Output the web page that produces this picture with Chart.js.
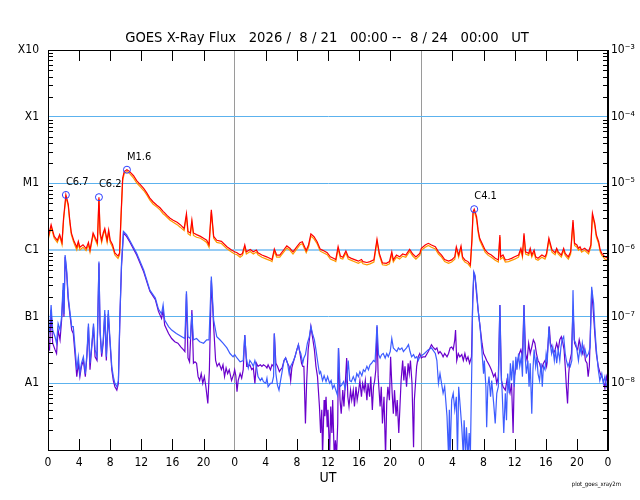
<!DOCTYPE html>
<html>
<head>
<meta charset="utf-8">
<title>GOES X-Ray Flux</title>
<script src="https://cdn.jsdelivr.net/npm/chart.js@4.4.1/dist/chart.umd.min.js"></script>
<style>
  html, body { margin: 0; padding: 0; background: #fff; }
</style>
</head>
<body>
<canvas id="xray" width="640" height="500"></canvas>
<script>
// hours counted from 2026-08-21 00:00 UT, flux in W/m^2
// long channel (red = primary, orange = secondary, same sample times)
const redHours = [
  0, 0.4, 0.8, 1.2, 1.5, 1.8, 2.0, 2.3, 2.6, 2.8,
  3.0, 3.3, 3.7, 3.9, 4.1, 4.5, 4.9, 5.2, 5.4, 5.8,
  6.1, 6.35, 6.55, 6.7, 6.9, 7.1, 7.3, 7.6, 7.8, 8.0,
  8.3, 8.6, 9.0, 9.2, 9.4, 9.6, 9.8, 10.15, 10.5, 11.0,
  11.4, 11.9, 12.3, 12.7, 13.1, 13.5, 14.0, 14.4, 14.8, 15.0,
  15.3, 15.7, 16.1, 16.6, 17.0, 17.5, 17.8, 18.0, 18.3, 18.5,
  18.7, 19.1, 19.6, 20.0, 20.4, 20.7, 21.0, 21.3, 21.7, 22.3,
  23.0, 23.6, 24.0, 24.3, 24.7, 25.0, 25.3, 25.5, 26.0, 26.4,
  26.8, 27.0, 27.5, 28.1, 28.5, 28.8, 29.1, 29.4, 29.8, 30.3,
  30.7, 31.1, 31.5, 32.0, 32.4, 32.7, 33.2, 33.5, 33.8, 34.2,
  34.6, 35.0, 35.4, 35.9, 36.3, 36.7, 37.0, 37.3, 37.6, 37.9,
  38.3, 38.6, 39.0, 39.5, 39.9, 40.3, 40.5, 41.0, 41.4, 41.9,
  42.3, 42.6, 43.0, 43.5, 43.9, 44.2, 44.4, 44.8, 45.2, 45.6,
  46.0, 46.5, 46.9, 47.3, 47.8, 48.0, 48.5, 48.9, 49.3, 49.8,
  50.2, 50.6, 51.0, 51.5, 51.9, 52.3, 52.5, 52.8, 53.1, 53.3,
  53.6, 54.0, 54.3, 54.5, 54.65, 54.8, 55.1, 55.3, 55.5, 55.8,
  56.2, 56.6, 57.0, 57.5, 57.9, 58.1, 58.2, 58.5, 58.8, 59.2,
  59.6, 60.0, 60.5, 60.8, 61.0, 61.2, 61.4, 61.8, 62.0, 62.2,
  62.5, 62.7, 63.0, 63.5, 63.9, 64.1, 64.4, 64.8, 65.2, 65.4,
  65.6, 66.0, 66.3, 66.5, 66.9, 67.2, 67.5, 67.7, 68.0, 68.2,
  68.4, 68.6, 69.0, 69.5, 69.8, 70.0, 70.3, 70.5, 70.8, 71.0,
  71.2, 71.4, 71.6, 72.0
];
const redFlux = [
  1.5e-6, 2.4e-6, 1.6e-6, 1.4e-6, 1.7e-6, 1.3e-6, 3.0e-6, 6.7e-6, 4.9e-6, 2.8e-6,
  1.8e-6, 1.4e-6, 1.1e-6, 1.35e-6, 1.1e-6, 1.2e-6, 1.05e-6, 1.3e-6, 1.0e-6, 1.8e-6,
  1.5e-6, 1.3e-6, 6.2e-6, 1.8e-6, 1.4e-6, 1.8e-6, 2.1e-6, 1.4e-6, 2.0e-6, 1.4e-6,
  1.2e-6, 9.0e-7, 8.1e-7, 9.0e-7, 3.5e-6, 1.2e-5, 1.5e-5, 1.6e-5, 1.5e-5, 1.3e-5,
  1.1e-5, 9.5e-6, 8.4e-6, 7.2e-6, 6.0e-6, 5.3e-6, 4.7e-6, 4.3e-6, 3.8e-6, 3.6e-6,
  3.3e-6, 3.0e-6, 2.8e-6, 2.6e-6, 2.4e-6, 2.1e-6, 3.5e-6, 1.9e-6, 1.8e-6, 2.8e-6,
  1.8e-6, 1.7e-6, 1.6e-6, 1.5e-6, 1.4e-6, 1.2e-6, 4.0e-6, 1.6e-6, 1.4e-6, 1.35e-6,
  1.12e-6, 1.0e-6, 9.4e-7, 9.1e-7, 8.4e-7, 8.9e-7, 1.19e-6, 9.4e-7, 1.02e-6, 9.4e-7,
  1.0e-6, 9.1e-7, 8.4e-7, 7.9e-7, 7.5e-7, 7.2e-7, 1.03e-6, 8.4e-7, 8.4e-7, 1.0e-6,
  1.15e-6, 1.06e-6, 9.4e-7, 1.12e-6, 1.29e-6, 1.33e-6, 9.8e-7, 1.19e-6, 1.74e-6, 1.58e-6,
  1.33e-6, 1.03e-6, 9.8e-7, 9.1e-7, 7.9e-7, 7.5e-7, 7.2e-7, 1.12e-6, 8.1e-7, 7.8e-7,
  9.7e-7, 7.9e-7, 7.5e-7, 7.1e-7, 6.8e-7, 7.2e-7, 6.7e-7, 6.5e-7, 6.7e-7, 7.1e-7,
  1.45e-6, 8.9e-7, 6.4e-7, 6.3e-7, 6.7e-7, 9.4e-7, 7.1e-7, 8.4e-7, 7.9e-7, 8.7e-7,
  8.4e-7, 1.02e-6, 8.7e-7, 7.9e-7, 8.9e-7, 1.06e-6, 1.19e-6, 1.26e-6, 1.19e-6, 1.12e-6,
  9.4e-7, 8.4e-7, 7.2e-7, 6.8e-7, 7.1e-7, 7.9e-7, 1.12e-6, 8.4e-7, 1.15e-6, 7.9e-7,
  7.1e-7, 6.7e-7, 6.0e-7, 1.41e-6, 3.76e-6, 4.1e-6, 3.16e-6, 2.0e-6, 1.5e-6, 1.26e-6,
  1.0e-6, 8.9e-7, 8.4e-7, 7.5e-7, 7.1e-7, 1.68e-6, 7.9e-7, 8.4e-7, 7.1e-7, 7.2e-7,
  7.5e-7, 7.9e-7, 8.4e-7, 1.06e-6, 8.4e-7, 1.78e-6, 9.4e-7, 8.9e-7, 1.06e-6, 8.4e-7,
  1.0e-6, 7.9e-7, 7.5e-7, 8.4e-7, 7.9e-7, 8.9e-7, 1.5e-6, 1.0e-6, 9.1e-7, 1.06e-6,
  9.4e-7, 8.4e-7, 1.06e-6, 8.9e-7, 7.9e-7, 9.4e-7, 2.82e-6, 1.26e-6, 1.19e-6, 1.06e-6,
  1.12e-6, 1.0e-6, 1.06e-6, 9.4e-7, 1.19e-6, 3.55e-6, 2.5e-6, 1.68e-6, 1.33e-6, 1.0e-6,
  8.9e-7, 8.4e-7, 7.9e-7, 7.5e-7
];
const orangeFlux = [
  1.4e-6, 2.2e-6, 1.5e-6, 1.3e-6, 1.6e-6, 1.2e-6, 2.8e-6, 6.2e-6, 4.6e-6, 2.6e-6,
  1.7e-6, 1.3e-6, 1.0e-6, 1.25e-6, 1.0e-6, 1.1e-6, 9.8e-7, 1.2e-6, 9.3e-7, 1.7e-6,
  1.4e-6, 1.2e-6, 5.8e-6, 1.7e-6, 1.3e-6, 1.7e-6, 1.95e-6, 1.3e-6, 1.85e-6, 1.3e-6,
  1.1e-6, 8.4e-7, 7.5e-7, 8.4e-7, 3.2e-6, 1.1e-5, 1.4e-5, 1.5e-5, 1.4e-5, 1.2e-5,
  1.02e-5, 8.8e-6, 7.8e-6, 6.7e-6, 5.6e-6, 4.9e-6, 4.4e-6, 4.0e-6, 3.5e-6, 3.35e-6,
  3.1e-6, 2.8e-6, 2.6e-6, 2.4e-6, 2.2e-6, 1.95e-6, 3.2e-6, 1.75e-6, 1.65e-6, 2.6e-6,
  1.65e-6, 1.55e-6, 1.5e-6, 1.4e-6, 1.3e-6, 1.1e-6, 3.7e-6, 1.5e-6, 1.3e-6, 1.25e-6,
  1.04e-6, 9.3e-7, 8.7e-7, 8.5e-7, 7.8e-7, 8.3e-7, 1.1e-6, 8.7e-7, 9.5e-7, 8.7e-7,
  9.3e-7, 8.5e-7, 7.8e-7, 7.3e-7, 7.0e-7, 6.7e-7, 9.6e-7, 7.8e-7, 7.8e-7, 9.3e-7,
  1.07e-6, 9.9e-7, 8.7e-7, 1.04e-6, 1.2e-6, 1.24e-6, 9.1e-7, 1.1e-6, 1.62e-6, 1.47e-6,
  1.24e-6, 9.6e-7, 9.1e-7, 8.5e-7, 7.3e-7, 7.0e-7, 6.7e-7, 1.04e-6, 7.5e-7, 7.3e-7,
  9.0e-7, 7.3e-7, 7.0e-7, 6.6e-7, 6.3e-7, 6.7e-7, 6.2e-7, 6.0e-7, 6.2e-7, 6.6e-7,
  1.35e-6, 8.3e-7, 6.0e-7, 5.9e-7, 6.2e-7, 8.7e-7, 6.6e-7, 7.8e-7, 7.3e-7, 8.1e-7,
  7.8e-7, 9.5e-7, 8.1e-7, 7.3e-7, 8.3e-7, 9.9e-7, 1.1e-6, 1.17e-6, 1.1e-6, 1.04e-6,
  8.7e-7, 7.8e-7, 6.7e-7, 6.3e-7, 6.6e-7, 7.3e-7, 1.04e-6, 7.8e-7, 1.07e-6, 7.3e-7,
  6.6e-7, 6.2e-7, 5.6e-7, 1.3e-6, 3.5e-6, 3.8e-6, 2.9e-6, 1.85e-6, 1.4e-6, 1.17e-6,
  9.3e-7, 8.3e-7, 7.8e-7, 7.0e-7, 6.6e-7, 1.56e-6, 7.3e-7, 7.8e-7, 6.6e-7, 6.7e-7,
  7.0e-7, 7.3e-7, 7.8e-7, 9.9e-7, 7.8e-7, 1.65e-6, 8.7e-7, 8.3e-7, 9.9e-7, 7.8e-7,
  9.3e-7, 7.3e-7, 7.0e-7, 7.8e-7, 7.3e-7, 8.3e-7, 1.4e-6, 9.3e-7, 8.5e-7, 9.9e-7,
  8.7e-7, 7.8e-7, 9.9e-7, 8.3e-7, 7.3e-7, 8.7e-7, 2.6e-6, 1.17e-6, 1.1e-6, 9.9e-7,
  1.04e-6, 9.3e-7, 9.9e-7, 8.7e-7, 1.1e-6, 3.3e-6, 2.3e-6, 1.56e-6, 1.24e-6, 9.3e-7,
  8.3e-7, 7.8e-7, 7.3e-7, 7.0e-7
];

// short channel, primary (blue)
const blueHours = [
  0, 0.2, 0.4, 0.6, 0.9, 1.1, 1.3, 1.55, 1.75, 1.95,
  2.05, 2.2, 2.4, 2.6, 2.85, 3.05, 3.25, 3.5, 3.7, 3.9,
  4.1, 4.3, 4.55, 4.8, 5.0, 5.2, 5.4, 5.6, 5.85, 6.05,
  6.3, 6.55, 6.7, 6.9, 7.1, 7.3, 7.5, 7.75, 7.95, 8.2,
  8.4, 8.6, 8.85, 9.05, 9.25, 9.45, 9.7, 10.1, 10.5, 11.4,
  12.3, 13.1, 13.8, 14.2, 14.6, 14.8, 15.0, 15.5, 15.9, 16.5,
  17.2, 17.6, 17.8, 18.0, 18.3, 18.5, 18.7, 19.1, 19.5, 20.0,
  20.4, 20.7, 21.0, 21.3, 21.7, 22.1, 22.5, 23.0, 23.4, 23.8,
  24.0, 24.3, 24.7, 25.1, 25.3, 25.5, 25.75, 25.95, 26.2, 26.4,
  26.6, 26.8, 27.0, 27.3, 27.5, 27.7, 28.0, 28.15, 28.3, 28.6,
  28.8, 29.0, 29.1, 29.3, 29.5, 29.7, 29.9, 30.1, 30.35, 30.55,
  30.8, 31.0, 31.2, 31.5, 31.75, 32.0, 32.2, 32.3, 32.5, 32.75,
  32.9, 33.1, 33.35, 33.6, 33.8, 34.0, 34.25, 34.45, 34.7, 34.9,
  35.05, 35.3, 35.5, 35.75, 35.95, 36.2, 36.4, 36.6, 36.8, 37.0,
  37.2, 37.35, 37.55, 37.75, 38.0, 38.2, 38.4, 38.6, 38.8, 39.0,
  39.25, 39.5, 39.7, 39.9, 40.1, 40.35, 40.55, 40.75, 41.0, 41.2,
  41.4, 41.6, 41.85, 42.05, 42.3, 42.5, 42.7, 42.9, 43.1, 43.35,
  43.55, 43.75, 44.0, 44.2, 44.4, 44.6, 44.85, 45.05, 45.25, 45.5,
  45.7, 45.9, 46.1, 46.35, 46.55, 46.75, 47.0, 47.2, 47.4, 47.6,
  47.8, 48.0, 48.4, 48.9, 49.3, 49.8, 50.0, 50.2, 50.4, 50.6,
  50.8, 51.0, 51.3, 51.5, 51.6, 51.7, 51.9, 52.1, 52.3, 52.5,
  52.65, 52.8, 53.0, 53.2, 53.4, 53.5, 53.7, 53.8, 54.0, 54.15,
  54.3, 54.5, 54.6, 54.75, 54.9, 55.1, 55.3, 55.55, 55.75, 56.0,
  56.1, 56.3, 56.4, 56.55, 56.7, 56.9, 57.05, 57.3, 57.5, 57.7,
  57.9, 58.1, 58.25, 58.4, 58.6, 58.8, 58.95, 59.1, 59.3, 59.45,
  59.6, 59.8, 59.95, 60.15, 60.3, 60.5, 60.65, 60.85, 61.0, 61.2,
  61.35, 61.5, 61.7, 61.85, 62.0, 62.2, 62.35, 62.5, 62.7, 62.85,
  63.0, 63.2, 63.4, 63.55, 63.7, 63.9, 64.05, 64.2, 64.4, 64.55,
  64.75, 64.9, 65.1, 65.25, 65.4, 65.6, 65.8, 65.95, 66.1, 66.3,
  66.5, 66.65, 66.85, 67.0, 67.15, 67.35, 67.5, 67.65, 67.85, 68.0,
  68.2, 68.4, 68.55, 68.7, 68.9, 69.05, 69.25, 69.5, 69.7, 69.9,
  70.0, 70.15, 70.3, 70.5, 70.75, 70.95, 71.2, 71.4, 71.6, 71.8,
  72.0
];
const blueFlux = [
  5.0e-8, 6.3e-8, 1.5e-7, 6.3e-8, 5.0e-8, 4.0e-8, 7.9e-8, 6.3e-8, 1.0e-7, 3.2e-7,
  1.1e-7, 8.4e-7, 5.0e-7, 2.0e-7, 1.1e-7, 7.1e-8, 7.1e-8, 3.2e-8, 1.6e-8, 2.5e-8,
  1.4e-8, 2.0e-8, 2.5e-8, 1.4e-8, 2.8e-8, 7.9e-8, 2.0e-8, 3.5e-8, 7.9e-8, 3.2e-8,
  2.5e-8, 6.7e-7, 6.3e-8, 2.8e-8, 4.5e-8, 1.26e-7, 2.5e-8, 1.26e-7, 5.0e-8, 1.8e-8,
  1.26e-8, 1.0e-8, 8.9e-9, 1.1e-8, 1.1e-7, 6.3e-7, 1.9e-6, 1.7e-6, 1.4e-6, 8.9e-7,
  5.0e-7, 2.5e-7, 1.9e-7, 1.3e-7, 1.1e-7, 1.5e-7, 8.9e-8, 7.1e-8, 6.3e-8, 5.6e-8,
  5.0e-8, 4.7e-8, 2.4e-7, 5.0e-8, 4.7e-8, 1.1e-7, 4.5e-8, 4.7e-8, 4.2e-8, 4.0e-8,
  4.5e-8, 4.5e-8, 4.0e-7, 8.9e-8, 5.0e-8, 4.5e-8, 4.0e-8, 3.4e-8, 2.8e-8, 2.5e-8,
  2.7e-8, 2.4e-8, 2.1e-8, 2.2e-8, 5.3e-8, 2.4e-8, 1.7e-8, 2.2e-8, 2.0e-8, 1.8e-8,
  2.2e-8, 1.8e-8, 1.26e-8, 1.1e-8, 1.2e-8, 1.06e-8, 1.0e-8, 1.2e-8, 8.9e-9, 1.0e-8,
  1.0e-8, 1.26e-8, 5.6e-8, 1.4e-8, 9.4e-9, 7.9e-9, 1.1e-8, 1.5e-8, 2.2e-8, 2.4e-8,
  2.0e-8, 1.4e-8, 1.8e-8, 2.1e-8, 2.5e-8, 3.2e-8, 3.8e-8, 3.2e-8, 2.8e-8, 2.0e-8,
  2.4e-8, 2.7e-8, 4.0e-8, 5.0e-8, 7.1e-8, 5.6e-8, 4.5e-8, 3.2e-8, 2.0e-8, 1.4e-8,
  1.5e-8, 1.1e-8, 1.3e-8, 1.06e-8, 1.26e-8, 1.0e-8, 1.1e-8, 8.4e-9, 9.4e-9, 7.9e-9,
  6.7e-9, 3.4e-8, 8.9e-9, 9.4e-9, 1.06e-8, 8.4e-9, 1.1e-8, 2.2e-8, 1.1e-8, 1.06e-8,
  1.26e-8, 1.06e-8, 1.4e-8, 1.26e-8, 1.5e-8, 1.3e-8, 1.6e-8, 1.5e-8, 1.8e-8, 1.6e-8,
  1.9e-8, 2.0e-8, 2.2e-8, 2.1e-8, 7.5e-8, 2.7e-8, 2.4e-8, 2.7e-8, 2.8e-8, 2.4e-8,
  2.8e-8, 2.5e-8, 3.0e-8, 4.7e-8, 3.4e-8, 3.2e-8, 3.0e-8, 3.4e-8, 3.2e-8, 3.4e-8,
  3.0e-8, 3.2e-8, 3.4e-8, 3.8e-8, 3.0e-8, 2.5e-8, 2.7e-8, 2.4e-8, 2.5e-8, 2.2e-8,
  2.5e-8, 2.6e-8, 2.8e-8, 3.2e-8, 3.4e-8, 2.8e-8, 2.2e-8, 1.0e-8, 1.4e-8, 1.0e-8,
  7.1e-9, 8.9e-9, 3.2e-9, 8e-10, 4.0e-9, 8e-10, 5.6e-9, 7.1e-9, 4.0e-9, 6.3e-9,
  8e-10, 8.9e-9, 4.5e-9, 2.2e-9, 8e-10, 2.8e-9, 8e-10, 2.2e-9, 8e-10, 1.8e-9,
  8e-10, 2.2e-8, 1.8e-7, 4.7e-7, 4.2e-7, 2.5e-7, 1.26e-7, 7.1e-8, 3.5e-8, 1.4e-8,
  2.2e-8, 8.9e-9, 2.2e-9, 8.9e-9, 1.26e-8, 6.3e-9, 1.1e-8, 5.0e-9, 2.5e-9, 7.1e-9,
  8.9e-9, 1.5e-7, 1.6e-8, 7.1e-9, 1.8e-9, 7.1e-9, 2.8e-9, 1.4e-8, 7.1e-9, 2.0e-8,
  1.1e-8, 2.2e-8, 8.9e-9, 2.5e-8, 1.6e-8, 2.8e-8, 1.8e-8, 2.5e-8, 1.26e-8, 1.5e-7,
  2.5e-8, 1.4e-8, 2.2e-8, 8.9e-9, 2.0e-8, 3.5e-9, 1.6e-8, 3.2e-8, 1.8e-8, 2.5e-8,
  1.4e-8, 1.1e-8, 2.0e-8, 8.9e-9, 1.8e-8, 1.6e-8, 2.8e-8, 2.2e-8, 7.1e-8, 4.0e-8,
  2.8e-8, 3.5e-8, 2.2e-8, 3.2e-8, 2.0e-8, 3.2e-8, 2.2e-8, 3.5e-8, 4.5e-8, 5.0e-8,
  2.8e-8, 2.2e-8, 1.8e-8, 2.0e-8, 1.8e-8, 2.2e-8, 2.5e-7, 4.5e-8, 4.0e-8, 3.2e-8,
  2.2e-8, 3.5e-8, 2.8e-8, 4.0e-8, 2.8e-8, 3.2e-8, 2.5e-8, 2.8e-8, 3.5e-8, 2.8e-7,
  2.2e-7, 1.6e-7, 7.1e-8, 3.2e-8, 1.6e-8, 1.1e-8, 1.4e-8, 1.0e-8, 1.26e-8, 8.9e-9,
  1.0e-8
];

// short channel, secondary (purple)
const purpleHours = [
  0, 0.2, 0.4, 0.6, 0.9, 1.1, 1.3, 1.55, 1.75, 1.95,
  2.05, 2.2, 2.4, 2.6, 2.85, 3.05, 3.25, 3.5, 3.7, 3.9,
  4.1, 4.3, 4.55, 4.8, 5.0, 5.2, 5.4, 5.6, 5.85, 6.05,
  6.3, 6.55, 6.7, 6.9, 7.1, 7.3, 7.5, 7.75, 7.95, 8.2,
  8.4, 8.6, 8.85, 9.05, 9.25, 9.45, 9.7, 10.1, 10.5, 11.4,
  12.3, 13.1, 13.8, 14.2, 14.6, 14.8, 15.0, 15.5, 15.9, 16.3,
  16.7, 17.1, 17.4, 17.6, 17.8, 18.0, 18.2, 18.5, 18.7, 18.9,
  19.1, 19.3, 19.5, 19.7, 19.9, 20.1, 20.3, 20.55, 20.75, 21.0,
  21.3, 21.55, 21.75, 22.0, 22.3, 22.5, 22.7, 22.9, 23.1, 23.3,
  23.6, 23.9, 24.0, 24.15, 24.3, 24.45, 24.7, 24.9, 25.1, 25.3,
  25.55, 25.75, 25.95, 26.2, 26.4, 26.6, 26.8, 27.0, 27.3, 27.5,
  27.7, 28.0, 28.15, 28.3, 28.6, 28.8, 29.0, 29.1, 29.3, 29.5,
  29.75, 29.9, 30.1, 30.35, 30.55, 30.8, 31.0, 31.2, 31.35, 31.5,
  31.75, 32.0, 32.2, 32.4, 32.6, 32.75, 32.9, 33.1, 33.25, 33.45,
  33.65, 33.8, 34.0, 34.25, 34.45, 34.65, 34.9, 35.05, 35.2, 35.3,
  35.5, 35.6, 35.75, 35.9, 36.0, 36.2, 36.35, 36.5, 36.6, 36.8,
  36.95, 37.1, 37.25, 37.35, 37.55, 37.7, 37.9, 38.05, 38.2, 38.4,
  38.55, 38.7, 38.9, 39.05, 39.25, 39.4, 39.6, 39.75, 39.95, 40.1,
  40.3, 40.45, 40.65, 40.8, 41.0, 41.15, 41.35, 41.5, 41.7, 41.85,
  42.0, 42.15, 42.3, 42.45, 42.7, 42.85, 43.0, 43.2, 43.4, 43.55,
  43.7, 43.9, 44.05, 44.25, 44.4, 44.55, 44.75, 44.9, 45.1, 45.25,
  45.4, 45.6, 45.75, 45.9, 46.1, 46.3, 46.45, 46.6, 46.8, 47.0,
  47.1, 47.25, 47.4, 47.6, 47.8, 48.0, 48.2, 48.5, 48.9, 49.3,
  49.5, 49.8, 50.0, 50.2, 50.4, 50.6, 50.8, 51.0, 51.3, 51.5,
  51.7, 51.9, 52.1, 52.3, 52.4, 52.55, 52.75, 52.95, 53.2, 53.4,
  53.6, 53.8, 54.0, 54.2, 54.45, 54.6, 54.75, 54.9, 55.1, 55.3,
  55.55, 55.8, 56.0, 56.2, 56.4, 56.6, 56.8, 57.0, 57.3, 57.5,
  57.7, 57.9, 58.1, 58.3, 58.5, 58.8, 59.0, 59.2, 59.4, 59.6,
  59.8, 59.95, 60.2, 60.4, 60.6, 60.8, 61.0, 61.2, 61.4, 61.6,
  61.8, 62.0, 62.2, 62.4, 62.6, 62.8, 63.0, 63.2, 63.4, 63.7,
  63.9, 64.1, 64.3, 64.45, 64.6, 64.8, 65.0, 65.2, 65.4, 65.6,
  65.8, 66.0, 66.2, 66.35, 66.5, 66.65, 66.8, 66.95, 67.1, 67.3,
  67.5, 67.7, 67.9, 68.1, 68.3, 68.5, 68.7, 68.9, 69.1, 69.3,
  69.45, 69.6, 69.9, 70.1, 70.3, 70.5, 70.75, 71.0, 71.2, 71.4,
  71.6, 71.8, 72.0
];
const purpleFlux = [
  3.5e-8, 3.2e-8, 1.26e-7, 4.0e-8, 3.2e-8, 2.8e-8, 6.3e-8, 4.5e-8, 8.9e-8, 2.5e-7,
  1.0e-7, 7.9e-7, 4.5e-7, 1.8e-7, 1.0e-7, 6.3e-8, 5.6e-8, 2.5e-8, 1.26e-8, 2.0e-8,
  1.26e-8, 1.8e-8, 2.2e-8, 1.26e-8, 2.5e-8, 7.1e-8, 1.6e-8, 3.2e-8, 7.1e-8, 2.5e-8,
  2.2e-8, 6.3e-7, 5.6e-8, 2.5e-8, 4.0e-8, 1.1e-7, 2.2e-8, 1.1e-7, 4.5e-8, 1.6e-8,
  1.1e-8, 8.9e-9, 7.9e-9, 1.0e-8, 1.0e-7, 5.6e-7, 1.8e-6, 1.6e-6, 1.33e-6, 8.4e-7,
  4.7e-7, 2.4e-7, 1.8e-7, 1.2e-7, 9.4e-8, 1.26e-7, 7.5e-8, 5.6e-8, 4.7e-8, 4.2e-8,
  4.0e-8, 3.5e-8, 3.2e-8, 3.0e-8, 2.2e-7, 2.4e-8, 2.1e-8, 1.26e-7, 2.0e-8, 2.1e-8,
  2.0e-8, 1.26e-8, 1.1e-8, 1.4e-8, 1.0e-8, 1.26e-8, 8.9e-9, 5.0e-9, 1.6e-8, 3.5e-7,
  7.1e-8, 2.2e-8, 1.8e-8, 2.0e-8, 1.6e-8, 1.9e-8, 1.26e-8, 1.7e-8, 1.4e-8, 1.6e-8,
  1.1e-8, 1.4e-8, 1.6e-8, 1.3e-8, 7.5e-9, 1.1e-8, 1.4e-8, 1.2e-8, 1.6e-8, 5.3e-8,
  1.8e-8, 1.8e-8, 1.9e-8, 1.6e-8, 1.7e-8, 1.0e-8, 2.0e-8, 1.8e-8, 1.9e-8, 1.8e-8,
  1.9e-8, 1.8e-8, 1.7e-8, 1.9e-8, 1.6e-8, 1.9e-8, 1.8e-8, 5.6e-8, 2.0e-8, 1.8e-8,
  1.5e-8, 1.6e-8, 1.7e-8, 2.2e-8, 2.4e-8, 2.0e-8, 1.8e-8, 1.1e-8, 1.7e-8, 2.0e-8,
  2.5e-8, 3.2e-8, 3.8e-8, 2.8e-8, 2.0e-8, 1.8e-8, 1.8e-8, 2.5e-9, 1.0e-8, 3.2e-8,
  5.0e-8, 7.1e-8, 5.0e-8, 3.2e-8, 1.8e-8, 1.26e-8, 4.5e-9, 1.8e-9, 4.0e-9, 8e-10,
  5.6e-9, 3.2e-9, 6.3e-9, 2.2e-9, 4.0e-9, 8e-10, 4.5e-9, 1.8e-9, 5.6e-9, 8e-10,
  1.4e-9, 8e-10, 2.5e-9, 3.4e-8, 5.6e-9, 3.5e-9, 7.9e-9, 4.5e-9, 8.9e-9, 2.4e-8,
  6.3e-9, 4.5e-9, 7.9e-9, 5.6e-9, 7.9e-9, 4.5e-9, 8.9e-9, 5.6e-9, 7.9e-9, 1.1e-8,
  6.3e-9, 1.0e-8, 7.9e-9, 1.1e-8, 5.6e-9, 1.0e-8, 6.3e-9, 1.26e-8, 4.0e-9, 8.9e-9,
  1.1e-8, 1.6e-8, 7.1e-8, 1.26e-8, 4.5e-9, 8.9e-9, 2.5e-9, 6.3e-9, 8e-10, 5.0e-9,
  8.9e-9, 5.6e-9, 2.5e-8, 7.1e-9, 3.5e-9, 7.9e-9, 3.2e-9, 5.6e-9, 1.8e-9, 4.5e-9,
  1.1e-8, 2.2e-8, 1.1e-8, 1.8e-8, 8.9e-9, 2.0e-8, 1.4e-8, 2.2e-8, 1.0e-8, 1.1e-9,
  5.6e-9, 1.0e-8, 1.8e-8, 2.5e-8, 2.8e-8, 2.4e-8, 2.5e-8, 2.5e-8, 3.0e-8, 3.8e-8,
  3.5e-8, 3.2e-8, 3.4e-8, 2.8e-8, 3.0e-8, 2.8e-8, 2.5e-8, 2.8e-8, 2.5e-8, 2.8e-8,
  3.4e-8, 3.5e-8, 3.2e-8, 4.5e-8, 6.3e-8, 2.2e-8, 2.8e-8, 2.5e-8, 2.7e-8, 2.2e-8,
  2.8e-8, 2.2e-8, 2.5e-8, 2.0e-8, 2.5e-8, 1.58e-7, 4.5e-7, 4.0e-7, 2.2e-7, 1.26e-7,
  7.1e-8, 4.0e-8, 2.8e-8, 2.5e-8, 2.2e-8, 2.0e-8, 1.8e-8, 1.6e-8, 1.26e-8, 1.4e-8,
  1.0e-8, 1.26e-8, 1.5e-7, 1.1e-8, 8.9e-9, 7.9e-9, 1.1e-8, 8.9e-9, 7.1e-9, 1.0e-8,
  1.8e-9, 1.26e-8, 1.8e-8, 2.2e-8, 2.8e-8, 3.2e-8, 2.5e-8, 1.5e-7, 2.8e-8, 2.2e-8,
  4.0e-8, 2.8e-8, 3.5e-8, 4.5e-8, 4.0e-8, 2.8e-8, 2.2e-8, 2.0e-8, 1.6e-8, 2.0e-8,
  2.2e-8, 1.8e-8, 4.0e-8, 7.1e-8, 4.0e-8, 3.5e-8, 2.8e-8, 3.2e-8, 4.0e-8, 3.2e-8,
  4.5e-8, 5.0e-8, 4.0e-8, 3.2e-8, 1.8e-8, 8.9e-9, 5.0e-9, 1.4e-8, 2.2e-8, 2.8e-8,
  1.26e-7, 4.0e-8, 3.5e-8, 3.2e-8, 4.5e-8, 3.5e-8, 2.8e-8, 3.5e-8, 2.2e-8, 2.0e-8,
  1.26e-8, 1.8e-8, 2.5e-7, 1.26e-7, 5.6e-8, 2.8e-8, 1.8e-8, 1.4e-8, 1.26e-8, 1.1e-8,
  8.4e-9, 1.26e-8, 1.0e-8
];

// flare peaks marked on the plot
const flareHours = [2.3, 6.55, 10.15, 54.8];
const flareFlux = [6.7e-6, 6.2e-6, 1.6e-5, 4.1e-6];
const flareLabels = ['C6.7', 'C6.2', 'M1.6', 'C4.1'];

// axis ticks
const hourTicks = [0, 4, 8, 12, 16, 20, 24, 28, 32, 36, 40, 44, 48, 52, 56, 60, 64, 68, 72];
const decades = [1e-9, 1e-8, 1e-7, 1e-6, 1e-5, 1e-4, 1e-3];
const classLabels = ['', 'A1', 'B1', 'C1', 'M1', 'X1', 'X10'];
const powerLabels = ['', '10⁻⁸', '10⁻⁷', '10⁻⁶', '10⁻⁵', '10⁻⁴', '10⁻³'];

const titleText = 'GOES X-Ray Flux   2026 /  8 / 21   00:00 --  8 / 24   00:00   UT';
const FONT = '"DejaVu Sans", sans-serif';
const NARROW = '"DejaVu Sans Condensed", "DejaVu Sans", sans-serif';

const toPoints = (hours, flux) => hours.map((h, i) => ({ x: h, y: flux[i] }));

// frame, inward tick marks, flare markers and the loose texts
const goesDecor = {
  id: 'goesDecor',
  afterDatasetsDraw(chart) {
    const { ctx, chartArea: area, scales } = chart;
    const xs = scales.x;
    const ys = scales.y;
    ctx.save();
    ctx.strokeStyle = '#000';
    ctx.lineWidth = 1;
    ctx.beginPath();
    hourTicks.forEach(h => {
      if (h % 24 === 0) return;
      const px = Math.round(xs.getPixelForValue(h)) + 0.5;
      ctx.moveTo(px, area.bottom);
      ctx.lineTo(px, area.bottom - 11);
      ctx.moveTo(px, area.top);
      ctx.lineTo(px, area.top + 11);
    });
    decades.slice(0, -1).forEach(d => {
      for (let k = 2; k <= 9; k++) {
        const py = Math.round(ys.getPixelForValue(k * d)) + 0.5;
        ctx.moveTo(area.left, py);
        ctx.lineTo(area.left + 5, py);
        ctx.moveTo(area.right, py);
        ctx.lineTo(area.right - 5, py);
      }
    });
    ctx.stroke();
    ctx.strokeRect(area.left + 0.5, area.top + 0.5, area.right - area.left - 1, area.bottom - area.top);

    // flare markers
    ctx.font = '11px ' + NARROW;
    ctx.textAlign = 'left';
    ctx.textBaseline = 'middle';
    flareHours.forEach((h, i) => {
      const px = xs.getPixelForValue(h);
      const py = ys.getPixelForValue(flareFlux[i]);
      ctx.strokeStyle = '#2b3cff';
      ctx.beginPath();
      ctx.arc(px, py, 3.5, 0, Math.PI * 2);
      ctx.stroke();
      ctx.fillStyle = '#000';
      ctx.fillText(flareLabels[i], px, py - 13);
    });

    // title, axis name, footnote
    const mid = (area.left + area.right) / 2;
    ctx.fillStyle = '#000';
    ctx.textAlign = 'center';
    ctx.font = '13.2px ' + FONT;
    ctx.fillText(titleText, mid - 1, 39);
    ctx.font = '14px ' + NARROW;
    ctx.fillText('UT', mid, 478);
    ctx.textAlign = 'right';
    ctx.font = '6px ' + NARROW;
    ctx.fillText('plot_goes_xray2m', 621, 484);
    ctx.restore();
  }
};

const tickFont = { family: NARROW, size: 12 };

new Chart(document.getElementById('xray'), {
  type: 'line',
  data: {
    datasets: [
      { data: toPoints(redHours, redFlux), borderColor: '#ff0000' },
      { data: toPoints(redHours, orangeFlux), borderColor: '#ff9900' },
      { data: toPoints(blueHours, blueFlux), borderColor: '#3d5cff' },
      { data: toPoints(purpleHours, purpleFlux), borderColor: '#6a00cc' }
    ]
  },
  options: {
    responsive: false,
    animation: false,
    devicePixelRatio: 1,
    parsing: false,
    elements: {
      point: { radius: 0 },
      line: { borderWidth: 1.2, tension: 0, fill: false }
    },
    layout: { padding: { top: 50, left: 0, right: 0, bottom: 0 } },
    plugins: {
      legend: { display: false },
      tooltip: { enabled: false },
      title: { display: false }
    },
    scales: {
      x: {
        type: 'linear',
        min: 0,
        max: 72,
        afterBuildTicks: s => { s.ticks = hourTicks.map(v => ({ value: v })); },
        afterFit: s => { s.height = 50; },
        ticks: {
          autoSkip: false,
          maxRotation: 0,
          padding: 6,
          color: '#000',
          font: tickFont,
          callback: v => String(v % 24)
        },
        grid: {
          drawTicks: false,
          color: c => (c.tick && (c.tick.value === 24 || c.tick.value === 48)) ? '#9a9a9a' : 'rgba(0,0,0,0)',
          lineWidth: 1
        },
        border: { color: '#000' }
      },
      y: {
        type: 'logarithmic',
        position: 'left',
        min: 1e-9,
        max: 1e-3,
        afterBuildTicks: s => { s.ticks = decades.map(v => ({ value: v })); },
        afterFit: s => { s.width = 48; },
        ticks: {
          autoSkip: false,
          padding: 9,
          color: '#000',
          font: tickFont,
          callback: (v, i) => classLabels[i]
        },
        grid: {
          drawTicks: false,
          color: c => (c.index === 0 || c.index === 6) ? 'rgba(0,0,0,0)' : (c.index === 3 ? '#96ccf5' : '#5cb2ee'),
          lineWidth: c => c.index === 3 ? 2 : 1
        },
        border: { color: '#000' }
      },
      y2: {
        type: 'logarithmic',
        position: 'right',
        min: 1e-9,
        max: 1e-3,
        afterBuildTicks: s => { s.ticks = decades.map(v => ({ value: v })); },
        afterFit: s => { s.width = 32; },
        ticks: {
          autoSkip: false,
          padding: 3,
          color: '#000',
          font: tickFont,
          callback: (v, i) => powerLabels[i]
        },
        grid: { drawOnChartArea: false, drawTicks: false },
        border: { color: '#000' }
      }
    }
  },
  plugins: [goesDecor]
});
</script>
</body>
</html>
